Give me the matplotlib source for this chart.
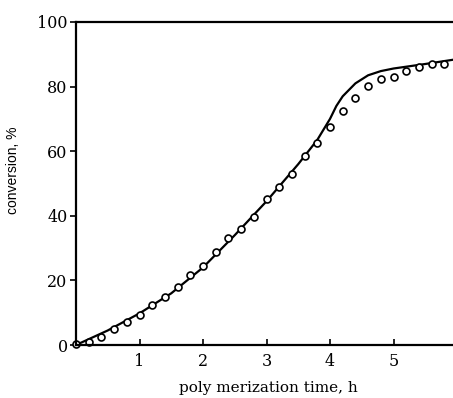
import matplotlib
matplotlib.use('Agg')
import matplotlib.pyplot as plt

# measured conversion (open circles)
t_meas = [0.0, 0.2, 0.4, 0.6, 0.8, 1.0, 1.2, 1.4, 1.6, 1.8, 2.0, 2.2, 2.4, 2.6, 2.8,
          3.0, 3.2, 3.4, 3.6, 3.8, 4.0, 4.2, 4.4, 4.6, 4.8, 5.0, 5.2, 5.4, 5.6, 5.8]
conv_meas = [0.3, 1.0, 2.6, 4.9, 7.0, 9.3, 12.4, 14.8, 18.1, 21.7, 24.5, 28.8, 33.0, 36.0, 39.7,
             45.1, 49.0, 52.9, 58.5, 62.4, 67.5, 72.4, 76.5, 80.3, 82.5, 83.1, 84.9, 86.2, 86.9, 87.0]

# model curve (solid line)
t_calc = [0.0, 0.5, 1.0, 1.5, 2.0, 2.5, 3.0, 3.5, 3.8, 4.0, 4.1, 4.2, 4.4, 4.6, 4.8, 5.0, 5.5, 6.0]
conv_calc = [0.0, 4.5, 9.8, 16.0, 24.0, 34.0, 44.5, 56.0, 63.5, 70.0, 74.0, 77.0, 81.0, 83.5,
             84.8, 85.6, 87.0, 88.5]

plt.rcParams['font.family'] = ['DejaVu Serif']

fig = plt.figure(figsize=(4.53, 3.98), dpi=100)
ax = fig.add_axes([76 / 453, 53 / 398, 381 / 453, 323 / 398])

ax.plot(t_calc, conv_calc, color='black', linewidth=1.6)
ax.plot(t_meas, conv_meas, 'o', markersize=5, markerfacecolor='white',
        markeredgecolor='black', markeredgewidth=1.2, clip_on=False)

ax.set_xlim(0, 6)
ax.set_ylim(0, 100)
ax.set_xticks([1, 2, 3, 4, 5, 6])
ax.set_yticks([0, 20, 40, 60, 80, 100])
ax.tick_params(axis='x', direction='in', length=4, width=1.2, labelsize=11.5, pad=6)
ax.tick_params(axis='y', direction='out', length=4, width=1.2, labelsize=11.5, pad=2)

for s in ['left', 'bottom', 'top']:
    ax.spines[s].set_linewidth(1.6)
ax.spines['right'].set_visible(False)

ax.set_xlabel('poly merization time, h', fontsize=11)
ax.xaxis.set_label_coords(0.505, -0.112)
ax.set_ylabel('conversion, %', fontsize=10,
              family=['Liberation Sans Narrow', 'Liberation Sans', 'DejaVu Sans'])
ax.yaxis.set_label_coords(-0.147, 0.542)

plt.savefig('out.png', dpi=100)
plt.close()
